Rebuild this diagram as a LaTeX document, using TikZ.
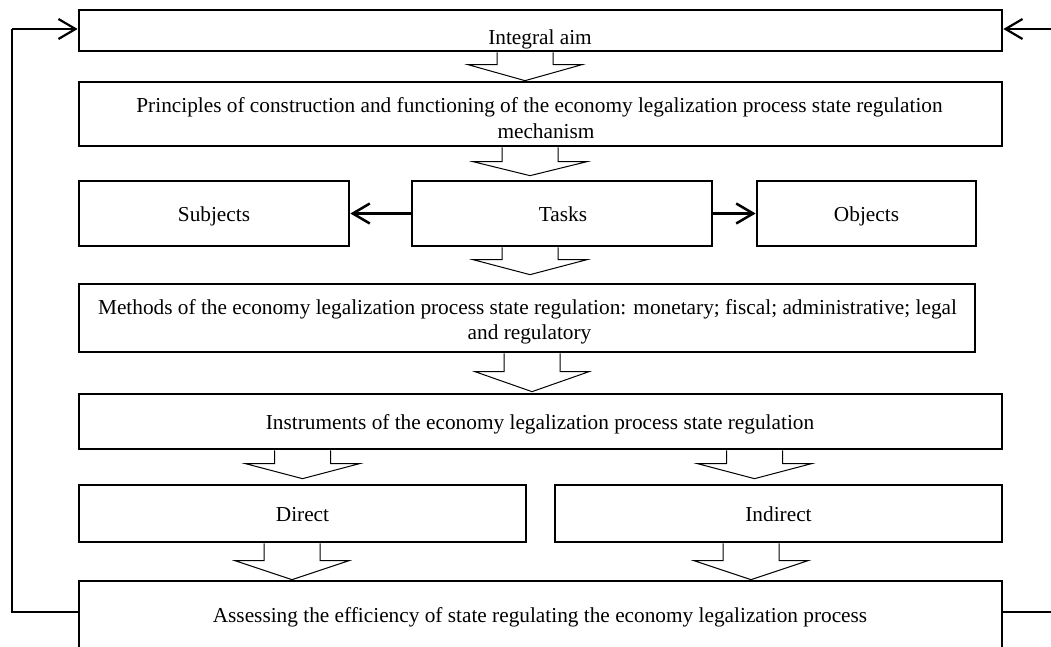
\documentclass[tikz,border=0pt]{standalone}
\usepackage{fontspec}
\setmainfont{Liberation Serif}
\usetikzlibrary{arrows.meta,calc}
\tikzset{
 box/.style={draw, line width=2.7pt, rectangle, inner sep=0pt},
 txt/.style={anchor=base, inner sep=0pt, font=\fontsize{21.3pt}{23pt}\selectfont},
 hol/.style={draw, line width=1pt, fill=white, line join=miter},
 con/.style={line width=2.5pt, -{Straight Barb[length=17pt,width=20pt,line width=2.5pt]}},
 fbcon/.style={line width=1.4pt, -{Straight Barb[length=17pt,width=20pt,line width=2.2pt]}},
 fb/.style={line width=1.4pt},
}
% #1 top node, #2 bottom node, #3 centre x, #4 gap above bottom node, #5 head length
\newcommand\harrow[5]{%
 \path (#3,0 |- #2.north) ++(0,-#4) coordinate (tip) ++(0,-#5) coordinate (ht);
 \draw[hol] (#3-28,0 |- #1.south) -- (#3-28,0 |- ht) -- (#3-57,0 |- ht) -- (tip)
   -- (#3+57,0 |- ht) -- (#3+28,0 |- ht) -- (#3+28,0 |- #1.south);}
\begin{document}
\begin{tikzpicture}[x=1pt,y=-1pt]
\fill[white] (0,0) rectangle (1051,646);
\useasboundingbox (0,0) rectangle (1051,646);
\clip (0,0) rectangle (1051,646);

% boxes
\node[box, minimum width=923pt, minimum height=41pt] (ia) at (540.5,30.5) {};
\node[box, minimum width=923pt, minimum height=64pt] (pr) at (540.5,114) {};
\node[box, minimum width=270pt, minimum height=65pt] (sub) at (214,213.5) {};
\node[box, minimum width=300pt, minimum height=65pt] (tasks) at (562,213.5) {};
\node[box, minimum width=219pt, minimum height=65pt] (obj) at (866.5,213.5) {};
\node[box, minimum width=896pt, minimum height=68pt] (meth) at (527,318) {};
\node[box, minimum width=923pt, minimum height=55pt] (instr) at (540.5,421.5) {};
\node[box, minimum width=447pt, minimum height=57pt] (dir) at (302.5,513.5) {};
\node[box, minimum width=447pt, minimum height=57pt] (ind) at (778.5,513.5) {};
\node[box, minimum width=923pt, minimum height=119pt] (ass) at (540.5,640.5) {};

% texts
\node[txt] (iat) at (540,44) {Integral aim};
\node[txt] (prt1) at (539.5,112) {Principles of construction and functioning of the economy legalization process state regulation};
\node[txt] (prt2) at (546,138) {mechanism};
\node[txt] (subt) at (214,221) {Subjects};
\node[txt] (taskst) at (563,221) {Tasks};
\node[txt] (objt) at (866.5,221) {Objects};
\node[txt] (metht1) at (527.5,314) {Methods of the economy legalization process state regulation: monetary; fiscal; administrative; legal};
\node[txt] (metht2) at (529.5,339) {and regulatory};
\node[txt] (instrt) at (540,429) {Instruments of the economy legalization process state regulation};
\node[txt] (dirt) at (302.5,521) {Direct};
\node[txt] (indt) at (778.5,521) {Indirect};
\node[txt] (asst) at (540,622) {Assessing the efficiency of state regulating the economy legalization process};

% hollow arrows
\harrow{ia}{pr}{525}{0}{16}
\harrow{pr}{tasks}{530}{4}{14}
\harrow{tasks}{meth}{530}{8}{15}
\harrow{meth}{instr}{532}{1}{20}
\harrow{instr}{dir}{302.5}{5}{15}
\harrow{instr}{ind}{754.5}{5}{15}
\harrow{dir}{ass}{292}{0}{19}
\harrow{ind}{ass}{751}{0}{19}

% side connectors
\draw[con] (tasks.west) -- (sub.east);
\draw[con] (tasks.east) -- (obj.west);

% feedback lines
\coordinate (fl1) at (12,612);
\coordinate (fl2) at (12,29);
\coordinate (fr1) at (1051,612);
\coordinate (fr2) at (1051,29);
\draw[fb] (fl1 -| ass.west) -- (fl1) -- (fl2);
\draw[fbcon] (fl2) -- (fl2 -| ia.west);
\draw[fb] (fr1 -| ass.east) -- (fr1);
\draw[fbcon] (fr2) -- (fr2 -| ia.east);
\end{tikzpicture}
\end{document}
